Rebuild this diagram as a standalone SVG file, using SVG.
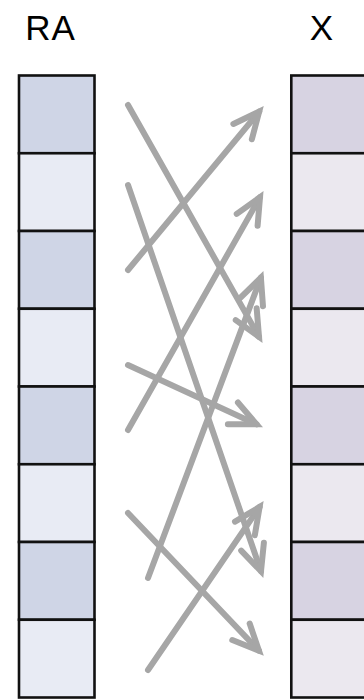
<svg xmlns="http://www.w3.org/2000/svg" width="364" height="700" viewBox="0 0 364 700">
<style>
.lbl{font-family:"Liberation Sans",Arial,sans-serif;font-size:35px;fill:#000;text-anchor:middle}
.cell{stroke:#111;stroke-width:2.6}
.ld{fill:#cfd5e6}.ll{fill:#e8ebf4}
.rd{fill:#d7d3e2}.rl{fill:#ebe8ef}
.arr{fill:none;stroke:#a6a6a6;stroke-width:6;stroke-linecap:round;marker-end:url(#head)}
</style>
<defs>
<marker id="head" markerUnits="userSpaceOnUse" viewBox="-32 -16 36 32" refX="0" refY="0" markerWidth="36" markerHeight="32" orient="auto" overflow="visible">
<path d="M-26,-12 L0,0 L-26,12" fill="none" stroke="#a6a6a6" stroke-width="6" stroke-linecap="round" stroke-linejoin="miter"/>
</marker>
</defs>
<g id="label-RA"><text class="lbl" x="50.5" y="39.5" letter-spacing="1">RA</text></g>
<g id="label-X"><text class="lbl" x="321.5" y="39.5">X</text></g>
<g id="RA">
<rect class="cell ld" x="19" y="75.5" width="75.5" height="77.75"/>
<rect class="cell ll" x="19" y="153.25" width="75.5" height="77.75"/>
<rect class="cell ld" x="19" y="231" width="75.5" height="77.75"/>
<rect class="cell ll" x="19" y="308.75" width="75.5" height="77.75"/>
<rect class="cell ld" x="19" y="386.5" width="75.5" height="77.75"/>
<rect class="cell ll" x="19" y="464.25" width="75.5" height="77.75"/>
<rect class="cell ld" x="19" y="542" width="75.5" height="77.75"/>
<rect class="cell ll" x="19" y="619.75" width="75.5" height="77.75"/>
</g>
<g id="X">
<rect class="cell rd" x="291.3" y="75.5" width="75.5" height="77.75"/>
<rect class="cell rl" x="291.3" y="153.25" width="75.5" height="77.75"/>
<rect class="cell rd" x="291.3" y="231" width="75.5" height="77.75"/>
<rect class="cell rl" x="291.3" y="308.75" width="75.5" height="77.75"/>
<rect class="cell rd" x="291.3" y="386.5" width="75.5" height="77.75"/>
<rect class="cell rl" x="291.3" y="464.25" width="75.5" height="77.75"/>
<rect class="cell rd" x="291.3" y="542" width="75.5" height="77.75"/>
<rect class="cell rl" x="291.3" y="619.75" width="75.5" height="77.75"/>
</g>
<g id="connectors">
<line class="arr" x1="128" y1="105" x2="259" y2="336.8"/>
<line class="arr" x1="128" y1="270" x2="259.2" y2="111.6"/>
<line class="arr" x1="128" y1="185" x2="261" y2="571.3"/>
<line class="arr" x1="128" y1="430" x2="260" y2="197.2"/>
<line class="arr" x1="148" y1="578" x2="260.9" y2="277.6"/>
<line class="arr" x1="128" y1="365" x2="256.5" y2="424.3"/>
<line class="arr" x1="148" y1="670" x2="259.6" y2="507"/>
<line class="arr" x1="128" y1="513" x2="258.9" y2="650.6"/>
</g>
</svg>
